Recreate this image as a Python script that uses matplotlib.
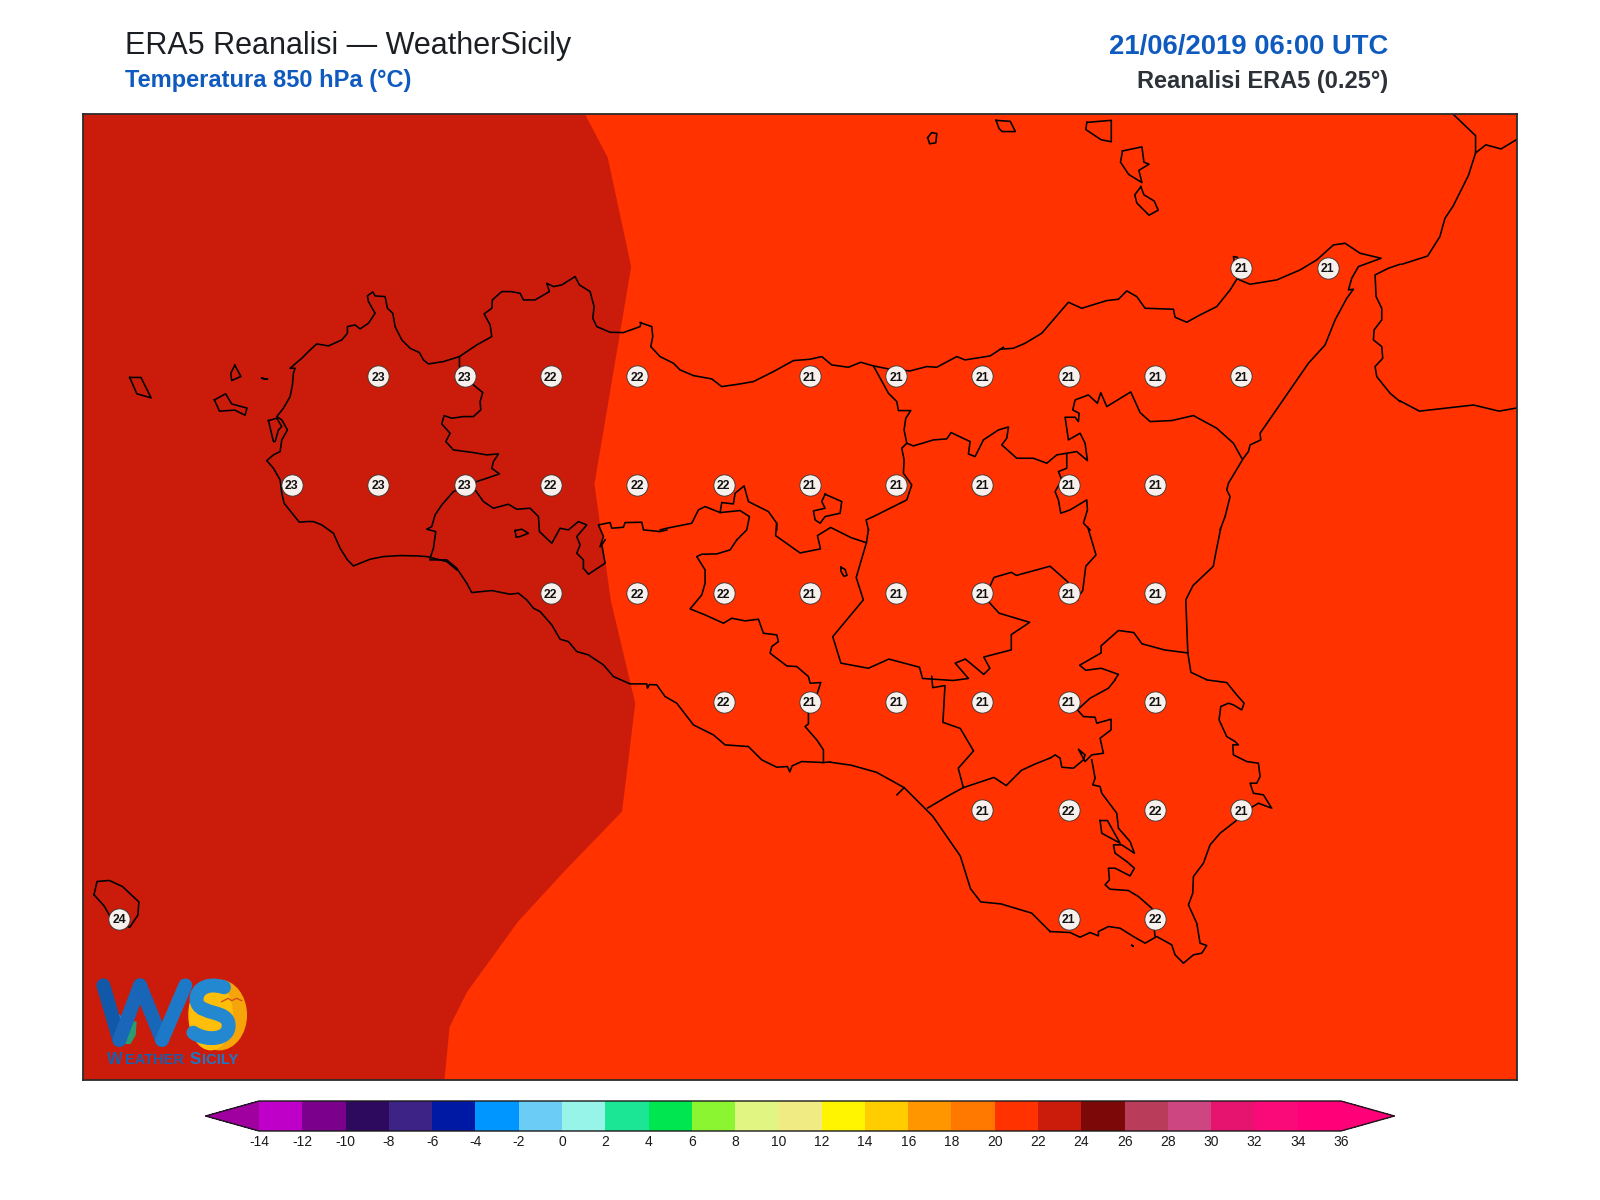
import matplotlib
matplotlib.use("Agg")
import matplotlib.pyplot as plt
from matplotlib.colors import ListedColormap, BoundaryNorm
from matplotlib.colorbar import ColorbarBase
from matplotlib.patches import Ellipse, PathPatch, Polygon
from matplotlib.path import Path

plt.rcParams["font.family"] = ["Liberation Sans", "DejaVu Sans"]
plt.rcParams["axes.unicode_minus"] = False

# colour scale of the temperature map
levels = list(range(-14, 38, 2))
colours = ["#BE00C8", "#7B008C", "#2E0A5E", "#3D2385", "#0019A5", "#0096FF", "#6BCDF5",
           "#96F5E8", "#1AE696", "#00E650", "#8CF532", "#E1F582", "#F0EB82", "#FFF500",
           "#FFCD00", "#FF9600", "#FF7800", "#FF3200", "#CB1C0B", "#7D0808", "#B93C5A",
           "#CD4682", "#E6146E", "#FA0A78", "#FF0078"]
under_colour = "#A000A0"
over_colour = "#FF0078"

# grid point values, by latitude row
lons_3825 = [15.25, 15.5]
vals_3825 = [21, 21]
lons_3800 = [12.75, 13.0, 13.25, 13.5, 14.0, 14.25, 14.5, 14.75, 15.0, 15.25]
vals_3800 = [23, 23, 22, 22, 21, 21, 21, 21, 21, 21]
lons_3775 = [12.5, 12.75, 13.0, 13.25, 13.5, 13.75, 14.0, 14.25, 14.5, 14.75, 15.0]
vals_3775 = [23, 23, 23, 22, 22, 22, 21, 21, 21, 21, 21]
lons_3750 = [13.25, 13.5, 13.75, 14.0, 14.25, 14.5, 14.75, 15.0]
vals_3750 = [22, 22, 22, 21, 21, 21, 21, 21]
lons_3725 = [13.75, 14.0, 14.25, 14.5, 14.75, 15.0]
vals_3725 = [22, 21, 21, 21, 21, 21]
lons_3700 = [14.5, 14.75, 15.0, 15.25]
vals_3700 = [21, 22, 22, 21]
lons_3675 = [12.0, 14.75, 15.0]
vals_3675 = [24, 21, 22]

# 22 degree isotherm
iso22 = [(573, 112), (595, 154), (618, 261), (582, 474), (598, 588), (622, 689), (609, 795),
         (552, 854), (507, 903), (457, 972), (440, 1006), (435, 1058)]


def crop(x0, y0, points):
    return [((x0 + p[0] / 3) / 1.0204, (y0 + p[1] / 3) / 1.0204) for p in points]


# coast, west part
coast_w = crop(260, 270, [(590, 900), (560, 875), (520, 865), (500, 860), (470, 858), (420, 857), (370, 860), (330, 868),
                          (280, 888), (262, 870), (240, 835), (220, 790), (185, 765), (160, 755), (140, 755), (118, 757),
                          (100, 735), (72, 700), (65, 670), (60, 630), (40, 595), (20, 572), (40, 555), (60, 545),
                          (65, 510), (82, 480), (65, 450), (50, 440), (70, 415), (90, 380), (97, 345), (100, 310),
                          (105, 295), (90, 295), (125, 265), (150, 240), (170, 222), (205, 228), (245, 210), (262, 190),
                          (262, 170), (285, 165), (300, 177), (325, 160), (345, 130), (325, 95), (322, 78), (338, 66),
                          (345, 78), (375, 80), (382, 115), (398, 130), (405, 170), (425, 210), (450, 235), (478, 248),
                          (490, 270), (505, 282), (550, 275), (598, 260), (650, 225), (695, 200), (690, 165), (672, 132),
                          (695, 115), (697, 90), (725, 65), (752, 65), (780, 70), (790, 90), (825, 90), (868, 65),
                          (860, 40), (880, 50), (905, 45), (945, 20), (958, 45), (990, 65), (1002, 110), (998, 145),
                          (1010, 170), (1050, 187), (1090, 188), (1140, 170), (1143, 158)])
coast_n = crop(640, 230, [(0, 278), (35, 290), (38, 320), (32, 350), (60, 380), (100, 400), (120, 420), (160, 437),
                          (215, 447), (245, 470), (300, 462), (340, 455), (400, 425), (460, 392), (510, 388), (545, 380),
                          (575, 405), (625, 412), (662, 397), (700, 408), (750, 418), (810, 423), (860, 410), (890, 412),
                          (950, 380), (975, 390), (1050, 378), (1090, 352)])
coast_ne = crop(1000, 230, [(0, 358), (40, 355), (75, 340), (125, 310), (205, 217), (245, 235), (320, 212), (355, 208),
                            (380, 183), (410, 200), (435, 235), (520, 238), (525, 262), (560, 277), (600, 255), (650, 230),
                            (690, 180), (712, 145), (700, 80), (712, 82), (712, 145), (718, 150), (750, 163), (830, 150),
                            (900, 120), (950, 90), (1000, 45), (1035, 40), (1080, 70), (1143, 85), (1075, 110), (1055, 145),
                            (1045, 180), (1060, 178), (1040, 205), (1005, 270), (975, 345), (925, 400), (825, 545),
                            (780, 610), (782, 630), (750, 645), (745, 665), (730, 685), (685, 760), (680, 780), (690, 800),
                            (675, 860), (660, 900)])
coast_e = [(1196, 519), (1191, 544), (1189, 555), (1169, 574), (1162, 588), (1164, 640), (1167, 659), (1182, 666)]
coast_se = crop(1050, 680, [(470, 0), (530, 8), (560, 45), (582, 70), (575, 90), (550, 75), (535, 70), (512, 80), (507, 120),
                            (530, 170), (555, 185), (565, 195), (548, 195), (550, 225), (590, 245), (625, 250), (630, 290),
                            (620, 310), (600, 310), (610, 340), (640, 345), (665, 385), (625, 370), (600, 385), (555, 425),
                            (510, 460), (480, 495), (460, 550), (430, 590), (428, 640), (415, 675), (440, 730), (450, 790),
                            (470, 797), (455, 820), (430, 825), (400, 850), (375, 825), (365, 795), (320, 770), (285, 790),
                            (250, 770), (210, 745), (175, 740), (145, 755), (145, 768), (120, 758), (90, 772), (60, 758),
                            (0, 755)])
coast_s = [(1029, 913), (1011, 895), (981, 886), (961, 884), (951, 871), (941, 839), (914, 800), (886, 772), (859, 757),
           (834, 750), (813, 747)]
coast_sw = crop(430, 540, [(0, 60), (50, 60), (80, 85), (110, 130), (125, 158), (185, 152), (240, 163), (265, 160),
                           (290, 180), (310, 205), (330, 215), (365, 255), (390, 298), (415, 305), (440, 335), (475, 345),
                           (520, 375), (550, 410), (600, 432), (650, 432), (652, 445), (658, 434), (680, 435), (705, 470),
                           (740, 490), (790, 555), (850, 585), (885, 615), (955, 620), (995, 660), (1040, 682), (1072, 680),
                           (1079, 696), (1086, 678), (1115, 665), (1180, 668), (1200, 666)])

# province borders
border_tp = crop(260, 270, [(598, 260), (598, 290), (612, 320), (640, 345), (668, 368), (660, 395), (662, 420), (640, 440),
                            (610, 440), (575, 445), (552, 437), (545, 462), (570, 490), (557, 515), (580, 540), (640, 548),
                            (680, 555), (715, 552), (700, 575), (695, 595), (718, 612), (680, 625), (650, 635), (615, 650),
                            (580, 665), (545, 705), (525, 735), (515, 770), (500, 778), (527, 785), (520, 835), (510, 865)])
border_pa_a = crop(260, 270, [(645, 660), (670, 695), (700, 715), (745, 703), (770, 718), (810, 715), (835, 740), (838, 785),
                              (875, 820), (900, 775), (925, 780), (955, 755), (980, 765), (950, 800), (960, 825), (950, 850),
                              (970, 870), (970, 895)])
border_pa_b = crop(430, 540, [(460, 85), (475, 103), (525, 70), (515, 15), (525, 0)])
border_pa_c = crop(260, 270, [(1020, 830), (1030, 800), (1015, 765), (1050, 758), (1055, 775), (1090, 772), (1095, 758),
                              (1145, 757), (1150, 780), (1200, 785), (1220, 780)])
border_ag_a = crop(640, 230, [(60, 900), (80, 895), (155, 880), (175, 840), (195, 830), (240, 848), (300, 842), (328, 860), (320, 900), (290, 930)])
border_ag_b = crop(430, 540, [(920, 0), (900, 30), (860, 42), (815, 43), (800, 50), (825, 90), (825, 130), (815, 165), (780, 207),
                              (825, 225), (880, 250), (905, 235), (945, 243), (985, 238), (1000, 280), (1040, 285), (1045, 305),
                              (1025, 320), (1020, 340), (1070, 378), (1100, 380), (1135, 410), (1140, 430), (1172, 428),
                              (1160, 465), (1135, 520), (1135, 552), (1125, 560), (1160, 600), (1180, 630), (1180, 668)])
border_cl = crop(640, 230, [(240, 848), (245, 818), (280, 822), (285, 790), (312, 768), (325, 815), (385, 845), (410, 880), (410, 900)])
border_cl_b = [(761, 513), (760, 525), (784, 542), (804, 538), (801, 525), (814, 517), (834, 527), (849, 532), (851, 519)]
border_me_a = crop(640, 230, [(700, 408), (745, 490), (770, 515), (775, 542), (812, 542), (797, 565), (792, 600), (800, 640), (785, 655),
                              (792, 690), (790, 730), (815, 765), (800, 810), (760, 830), (700, 860), (678, 870), (685, 900)])
border_me_b = crop(640, 230, [(800, 640), (820, 648), (880, 630), (920, 627), (933, 608), (990, 635), (985, 672), (1005, 680),
                              (1030, 630), (1075, 600), (1103, 592)])
border_me_c = crop(1000, 230, [(25, 592), (20, 625), (5, 645), (50, 685), (100, 685), (140, 700), (170, 675), (230, 665),
                               (262, 692), (255, 640), (240, 610), (205, 630), (195, 562), (225, 562), (235, 575), (237, 550), (218, 540),
                               (225, 510), (265, 495), (292, 520), (302, 488), (320, 530), (392, 486), (420, 548), (450, 575),
                               (515, 572), (580, 557), (650, 595), (700, 640), (725, 685)])
border_en_a = crop(1000, 230, [(200, 672), (200, 715), (175, 725), (185, 750), (165, 785), (175, 810), (182, 850), (210, 840),
                               (260, 810), (262, 840), (250, 880), (270, 900)])
border_en_b = [(1066, 517), (1074, 544), (1064, 555), (1061, 579), (1054, 588)]
border_en_c = [(964, 588), (974, 566), (991, 561), (996, 564), (1029, 555), (1046, 570), (1056, 588)]
border_en_d = [(964, 588), (969, 590), (979, 601), (1009, 610), (991, 622), (991, 637), (964, 644), (970, 655), (964, 661),
               (946, 646), (936, 650), (949, 665), (934, 667), (904, 665), (901, 654), (871, 646), (851, 655), (824, 650),
               (816, 624), (846, 588), (839, 566), (849, 532)]
border_ct_a = [(1164, 640), (1141, 637), (1119, 631), (1111, 620), (1096, 618), (1079, 633), (1079, 640), (1058, 652),
               (1064, 657), (1079, 655), (1096, 661), (1092.7, 666)]
border_ct_b = crop(1050, 680, [(195, 0), (175, 25), (120, 55), (82, 90), (100, 110), (135, 112), (140, 130), (183, 118), (183, 150),
                               (150, 175), (160, 220), (125, 225), (105, 245), (85, 208), (105, 225), (100, 240), (70, 265),
                               (35, 262), (30, 235), (15, 225), (0, 235)])
border_ct_c = [(1029, 743), (1014, 749), (1001, 755), (986, 770), (974, 762), (944, 772), (939, 753), (954, 736), (941, 714),
               (924, 708), (926, 672), (914, 674), (913, 663)]
border_rg = crop(1050, 680, [(125, 240), (135, 295), (128, 315), (150, 320), (155, 340), (200, 400), (205, 445), (240, 485), (253, 520),
                             (215, 495), (190, 495), (195, 520), (230, 545), (253, 565), (240, 588), (195, 565), (175, 565), (178, 600),
                             (165, 615), (180, 628), (235, 632), (265, 650), (305, 685), (315, 770)])
border_misc = [(909, 792), (931, 779), (944, 772)]
border_tick = [(886, 772), (879, 779)]

calabria = crop(1000, 230, [(1200, 103), (1165, 115), (1125, 135), (1128, 200), (1145, 235), (1145, 270), (1122, 300), (1120, 330),
                            (1145, 350), (1148, 385), (1125, 410), (1130, 440), (1170, 490), (1200, 515)])
calabria_n = [(1424, 112), (1446, 133), (1446, 150), (1439, 172), (1424, 202), (1416, 214), (1411, 232), (1399, 251), (1374, 259)]
calabria_s = [(1372, 393), (1391, 403), (1444, 397), (1469, 403), (1486, 400)]
calabria_border = [(1446, 150), (1456, 142), (1471, 146), (1486, 137)]

islands = [
    [(909, 135), (913, 130), (918, 131), (917, 140), (911, 141)],
    [(976, 118), (990, 119), (995, 129), (982, 129), (979, 126)],
    [(1065, 120), (1089, 118), (1089, 139), (1079, 137), (1064, 127)],
    [(1100, 148), (1119, 144), (1121, 159), (1126, 161), (1116, 167), (1119, 179), (1106, 171), (1098, 159)],
    [(1118, 183), (1121, 191), (1131, 197), (1135, 206), (1126, 211), (1114, 199), (1112, 191)],
    [(127, 370), (138, 370), (148, 390), (134, 386)],
    [(210, 392), (221, 386), (227, 396), (242, 400), (240, 407), (230, 402), (215, 403)],
    [(230, 358), (236, 369), (227, 373), (226, 366)],
    [(92, 877), (95, 864), (107, 863), (120, 869), (136, 884), (135, 897), (127, 909), (107, 897), (102, 888)],
    [(824, 556), (828, 558), (830, 564), (827, 565), (824, 560)],
    crop(260, 270, [(25, 452), (50, 445), (65, 470), (55, 480), (45, 515), (40, 515)]),
    crop(260, 270, [(765, 782), (785, 778), (805, 790), (780, 800), (768, 802)]),
    crop(260, 270, [(5, 325), (22, 328)]),
    crop(640, 230, [(555, 793), (605, 815), (600, 850), (555, 860), (540, 880), (525, 870), (520, 843), (555, 835), (545, 815)]),
    crop(1050, 680, [(150, 422), (172, 422), (210, 490), (155, 460)]),
    crop(1050, 680, [(245, 796), (249, 799)]),
]

outlines = [coast_w, coast_n, coast_ne, coast_e, coast_se, coast_s, coast_sw, border_tp, border_pa_a, border_pa_b, border_pa_c,
            border_ag_a, border_ag_b, border_cl, border_cl_b, border_me_a, border_me_b, border_me_c, border_en_a, border_en_b,
            border_en_c, border_en_d, border_ct_a, border_ct_b, border_ct_c, border_rg, border_misc, border_tick, calabria,
            calabria_n, calabria_s, calabria_border]


def to_lonlat(points):
    # traced points -> degrees
    lon = [12.5 + (p[0] * 1.0204 - 291.8) / 345.3 for p in points]
    lat = [38.0 + (376.2 - p[1] * 1.0204) / 434.0 for p in points]
    return lon, lat


fig = plt.figure(figsize=(16, 12), dpi=100, facecolor="white")
ax = fig.add_axes([83 / 1600, 1 - 1080 / 1200, 1434 / 1600, 966 / 1200])
lon_min, lon_max = 11.895, 16.048
lat_min, lat_max = 36.378, 38.604
ax.set_xlim(lon_min, lon_max)
ax.set_ylim(lat_min, lat_max)
ax.set_facecolor(colours[levels.index(20)])
ax.set_xticks([])
ax.set_yticks([])
for spine in ax.spines.values():
    spine.set_linewidth(1.3)
    spine.set_color("#2b2b2b")

iso_lon, iso_lat = to_lonlat(iso22)
ax.fill_betweenx(iso_lat, lon_min, iso_lon, color=colours[levels.index(22)], linewidth=0)
# isotherm runs past the frame
ax.fill_betweenx([lat_min, iso_lat[-1]], lon_min, iso_lon[-1], color=colours[levels.index(22)], linewidth=0)
ax.fill_betweenx([iso_lat[0], lat_max], lon_min, iso_lon[0], color=colours[levels.index(22)], linewidth=0)

coast_lw = 1.15
for seg in outlines:
    x, y = to_lonlat(seg)
    ax.plot(x, y, color="black", lw=coast_lw, solid_joinstyle="round")
for isl in islands:
    x, y = to_lonlat(isl + [isl[0]])
    ax.plot(x, y, color="black", lw=coast_lw, solid_joinstyle="round")

rows = [(38.25, lons_3825, vals_3825), (38.0, lons_3800, vals_3800), (37.75, lons_3775, vals_3775),
        (37.5, lons_3750, vals_3750), (37.25, lons_3725, vals_3725), (37.0, lons_3700, vals_3700),
        (36.75, lons_3675, vals_3675)]
for lat, lons, vals in rows:
    ax.scatter(lons, [lat] * len(lons), s=235, facecolor="#F7F0EC", edgecolor="#333333", linewidth=0.6, zorder=5)
    for lon, val in zip(lons, vals):
        ax.text(lon, lat, str(val), ha="center", va="center_baseline", fontsize=8.8, fontweight="bold",
                color="#111111", zorder=6)

# colour bar, tip to tip
cax = fig.add_axes([205.6 / 1600, 1 - 1131 / 1200, 1188.8 / 1600, 30 / 1200])
cmap = ListedColormap(colours)
cmap.set_under(under_colour)
cmap.set_over(over_colour)
norm = BoundaryNorm(levels, cmap.N)
cb = ColorbarBase(cax, cmap=cmap, norm=norm, orientation="horizontal", extend="both", extendfrac=0.0494,
                  ticks=levels, spacing="uniform", drawedges=False)
cb.ax.tick_params(length=0, labelsize=10, pad=3, colors="#1a1a1a")
cb.ax.set_xticklabels([str(v) for v in levels])
cb.outline.set_linewidth(1.0)
cb.outline.set_edgecolor("#1a1a1a")

# titles
fig.text(125 / 1600, 1 - 54 / 1200, "ERA5 Reanalisi \u2014 WeatherSicily", fontsize=22, color="#1B1F24")
fig.text(125 / 1600, 1 - 87 / 1200, "Temperatura 850 hPa (\u00b0C)", fontsize=17, fontweight="bold", color="#0F5ABE")
fig.text(1388 / 1600, 1 - 54 / 1200, "21/06/2019 06:00 UTC", fontsize=19.8, fontweight="bold", color="#0F5ABE", ha="right")
fig.text(1388 / 1600, 1 - 88 / 1200, "Reanalisi ERA5 (0.25\u00b0)", fontsize=17, fontweight="bold", color="#2D3238", ha="right")

# logo, drawn in its own little axes
logo = fig.add_axes([80 / 1600, 1 - 1080 / 1200, 200 / 1600, 120 / 1200])
logo.set_xlim(0, 600)
logo.set_ylim(360, 0)
logo.axis("off")
logo.patch.set_alpha(0)
logo.add_patch(Ellipse((418, 165), 162, 208, color="#F5A50A"))
logo.add_patch(Ellipse((392, 165), 130, 208, color="#FFBE0A"))
logo.plot([70, 118], [76, 240], color="#1258A8", lw=10, solid_capstyle="round")
logo.plot([118, 180], [240, 76], color="#1A66B8", lw=10, solid_capstyle="round")
logo.plot([180, 246], [76, 240], color="#1766B8", lw=10, solid_capstyle="round")
logo.plot([246, 316], [240, 76], color="#1E78C8", lw=10, solid_capstyle="round")
s_path = Path([(432, 82), (370, 62), (340, 100), (352, 130), (366, 165), (445, 150), (446, 195),
               (448, 240), (380, 245), (340, 218)],
              [Path.MOVETO, Path.CURVE4, Path.CURVE4, Path.CURVE4, Path.CURVE4, Path.CURVE4, Path.CURVE4,
               Path.CURVE4, Path.CURVE4, Path.CURVE4])
logo.add_patch(PathPatch(s_path, fill=False, edgecolor="#2488D0", lw=10, capstyle="round"))
logo.add_patch(Polygon([(100, 235), (118, 165), (138, 205), (125, 245)], color="#05A5F5"))
logo.add_patch(Polygon([(120, 225), (135, 200), (168, 185), (165, 225), (150, 250), (125, 250)], color="#2A9D70"))
logo.plot([425, 445, 455, 470, 485], [125, 115, 122, 115, 122], color="#D2501E", lw=1)
logo.text(82, 298, "W", fontsize=12, fontweight="bold", color="#1560B0", ha="left", va="center")
logo.text(136, 300, "EATHER", fontsize=10.5, fontweight="bold", color="#1560B0", ha="left", va="center")
logo.text(330, 298, "S", fontsize=12, fontweight="bold", color="#1A78C8", ha="left", va="center")
logo.text(366, 300, "ICILY", fontsize=10.5, fontweight="bold", color="#1A78C8", ha="left", va="center")

fig.savefig("out.png", dpi=100)
